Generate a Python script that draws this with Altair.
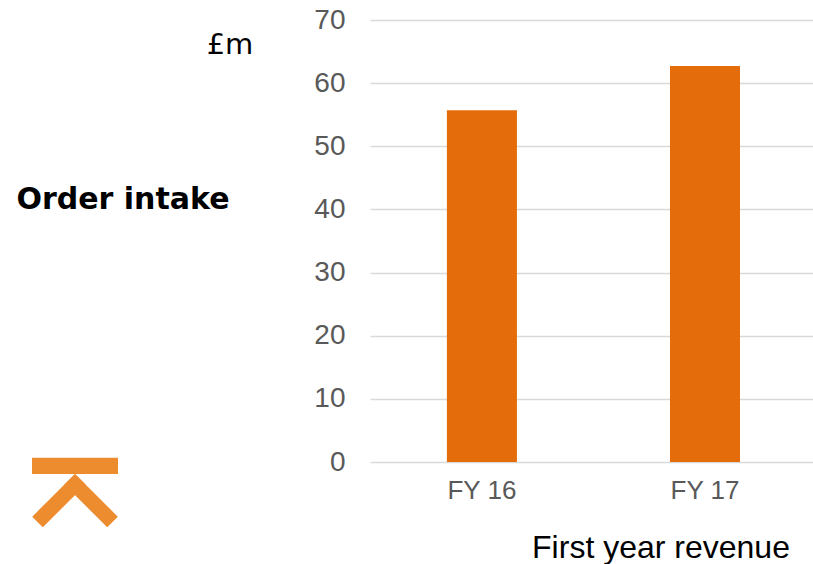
import altair as alt
import pandas as pd

categories = ["FY 16", "FY 17"]
values = [55.7, 62.7]
y_ticks = [0, 10, 20, 30, 40, 50, 60, 70]

df = pd.DataFrame({"year": categories, "value": values})

BAR = "#E46C0A"
ICON = "#ED8B2F"
GRID = "#D9D9D9"
LABEL = "#595959"

bars = alt.Chart(df).mark_bar(color=BAR).encode(
    x=alt.X("year:N", sort=categories,
            scale=alt.Scale(paddingInner=0.686, paddingOuter=0.336, align=0.513),
            axis=alt.Axis(title=None, labelAngle=0, ticks=False, domain=False,
                          labelFont="Liberation Sans", labelFontSize=26,
                          labelColor=LABEL, labelPadding=15)),
    y=alt.Y("value:Q", scale=alt.Scale(domain=[0, 70], nice=False),
            axis=alt.Axis(title=None, values=y_ticks, ticks=False, domain=False,
                          grid=True, gridColor=GRID, gridWidth=1.3,
                          labelFont="Liberation Sans", labelFontSize=28,
                          labelColor=LABEL, labelPadding=25)),
)

one = alt.Data(values=[{"k": 1}])

def label(text, x, y, size, bold=False, font="Liberation Sans", color="#000000"):
    return alt.Chart(one).mark_text(
        text=text, font=font, fontSize=size, fontWeight="bold" if bold else "normal",
        align="center", baseline="alphabetic", color=color
    ).encode(x=alt.value(x), y=alt.value(y))

t_unit = label("£m", -140, 33.5, 29, font="DejaVu Sans")
t_order = label("Order intake", -247, 188.5, 30, bold=True, font="DejaVu Sans")
t_first = label("First year revenue", 291, 538, 32)

icon_bar = alt.Chart(one).mark_rule(color=ICON, strokeWidth=16.3, strokeCap="butt").encode(
    x=alt.value(-338), x2=alt.value(-252), y=alt.value(445.8), y2=alt.value(445.8))
icon_left = alt.Chart(one).mark_rule(color=ICON, strokeWidth=15, strokeCap="butt").encode(
    x=alt.value(-332.5), y=alt.value(502), x2=alt.value(-289.7), y2=alt.value(459.2))
icon_right = alt.Chart(one).mark_rule(color=ICON, strokeWidth=15, strokeCap="butt").encode(
    x=alt.value(-257.5), y=alt.value(502), x2=alt.value(-300.3), y2=alt.value(459.2))

chart = alt.layer(bars, t_unit, t_order, t_first, icon_bar, icon_left, icon_right).properties(
    width=443, height=442,
    autosize=alt.AutoSizeParams(type="none"),
    padding={"left": 370, "top": 20, "right": 0, "bottom": 102},
    background="white",
).configure_view(stroke=None)

chart.save("out.html", embed_options={"renderer": "svg", "actions": False})
